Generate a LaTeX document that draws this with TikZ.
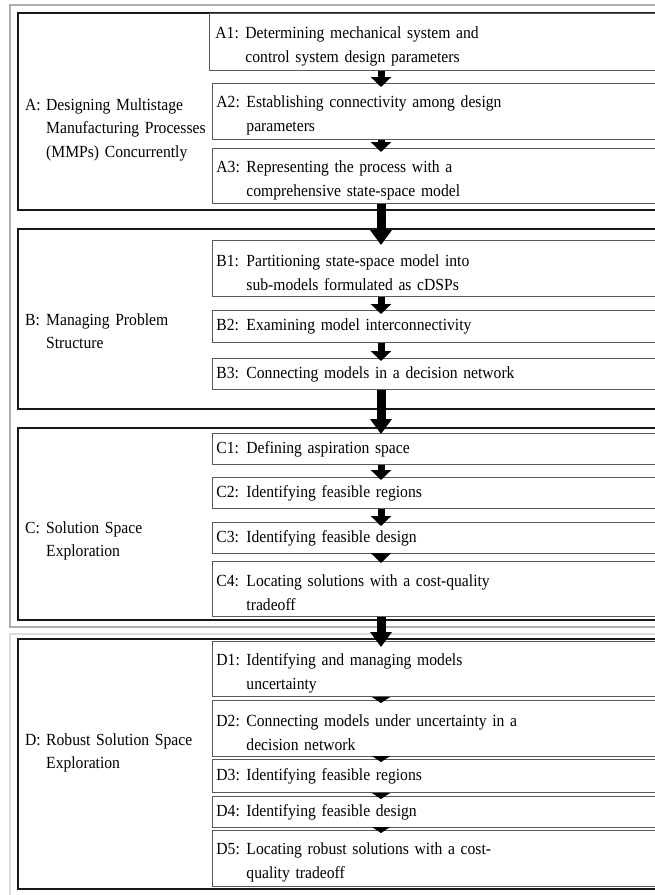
\documentclass[tikz,border=0pt]{standalone}
\usepackage{fontspec}
\setmainfont[FakeStretch=0.92]{Liberation Serif}
\usetikzlibrary{arrows.meta,calc}
\newcommand\slab[1]{\makebox[30pt][l]{#1}}
\newcommand\scont{\hspace*{30pt}}
\newcommand\plab[1]{\makebox[21pt][l]{#1}}
\newcommand\pcont{\hspace*{21pt}}
\newcommand\tstrut{\rule{0pt}{20pt}}
\begin{document}
\begin{tikzpicture}[x=1pt,y=-1pt,
  stepbox/.style={draw=black!65, line width=0.9pt, fill=white, anchor=north west,
    text width=452pt, inner xsep=4pt, inner ysep=0pt, align=left,
    font=\fontsize{17}{24}\selectfont, minimum height=#1},
  phase/.style={draw=black!90, line width=2.4pt, anchor=north west, minimum width=680pt, minimum height=#1, inner sep=0pt},
  phaselab/.style={anchor=base west, text width=190pt, inner sep=0pt, align=left,
    font=\fontsize{17}{23.5}\selectfont},
  frameA/.style={draw=black!32, line width=1.8pt},
  frameB/.style={draw=black!14, line width=1.8pt},
  arrS/.style={draw=black, line width=7pt, -{Triangle[width=20pt,length=10pt]}},
  arrB/.style={draw=black, line width=9pt, -{Triangle[width=21pt,length=15pt]}},
  arrD/.style={draw=black, line width=6pt, -{Triangle[width=18pt,length=6pt]}}
]
\useasboundingbox (0,0) rectangle (655,895);
\clip (0,0) rectangle (655,895);
\fill[white] (0,0) rectangle (655,895);

% grey frames
\draw[frameA] (10,5) rectangle (680,627);
\draw[frameB] (680,634) -- (10,634) -- (10,900);

% phase boxes
\node[phase=197pt] (A) at (17,12) {};
\node[phase=180pt] (B) at (17,228) {};
\node[phase=192pt] (C) at (17,427) {};
\node[phase=250pt] (D) at (17,638) {};

% phase labels
\node[phaselab] (Al) at (25,110) {\plab{A:}Designing Multistage\\\pcont Manufacturing Processes\\\pcont (MMPs) Concurrently};
\node[phaselab] (Bl) at (25,325) {\plab{B:}Managing Problem\\\pcont Structure};
\node[phaselab] (Cl) at (25,533) {\plab{C:}Solution Space\\\pcont Exploration};
\node[phaselab] (Dl) at (25,745) {\plab{D:}Robust Solution Space\\\pcont Exploration};

% steps
\node[stepbox=57pt, inner xsep=6pt] (A1) at (209,13) {\tstrut\slab{A1:}Determining mechanical system and\\\scont control system design parameters};
\node[stepbox=56pt] (A2) at (212,83) {\tstrut\slab{A2:}Establishing connectivity among design\\\scont parameters};
\node[stepbox=55pt] (A3) at (212,148) {\tstrut\slab{A3:}Representing the process with a\\\scont comprehensive state-space model};

\node[stepbox=56pt] (B1) at (212,240) {\tstrut\slab{B1:}Partitioning state-space model into\\\scont sub-models formulated as cDSPs};
\node[stepbox=32pt] (B2) at (212,310) {\slab{B2:}Examining model interconnectivity};
\node[stepbox=31pt] (B3) at (212,358) {\slab{B3:}Connecting models in a decision network};

\node[stepbox=31pt] (C1) at (212,433) {\slab{C1:}Defining aspiration space};
\node[stepbox=31pt] (C2) at (212,477) {\slab{C2:}Identifying feasible regions};
\node[stepbox=31pt] (C3) at (212,522) {\slab{C3:}Identifying feasible design};
\node[stepbox=55pt] (C4) at (212,561) {\tstrut\slab{C4:}Locating solutions with a cost-quality\\\scont tradeoff};

\node[stepbox=55pt] (D1) at (212,641) {\tstrut\slab{D1:}Identifying and managing models\\\scont uncertainty};
\node[stepbox=56pt] (D2) at (212,700) {\tstrut\slab{D2:}Connecting models under uncertainty in a\\\scont decision network};
\node[stepbox=33pt] (D3) at (212,759) {\slab{D3:}Identifying feasible regions};
\node[stepbox=31pt] (D4) at (212,796) {\slab{D4:}Identifying feasible design};
\node[stepbox=56pt] (D5) at (212,830) {\tstrut\slab{D5:}Locating robust solutions with a cost-\\\scont quality tradeoff};

% arrows
\coordinate (ax) at (381,0);
\draw[arrS] (A1.south west -| ax) -- ($(A2.north west -| ax)+(0,4)$);
\draw[arrS] (A2.south west -| ax) -- ($(A3.north west -| ax)+(0,4)$);
\draw[arrB] (A3.south west -| ax) -- ($(B1.north west -| ax)+(0,5)$);
\draw[arrS] (B1.south west -| ax) -- ($(B2.north west -| ax)+(0,4)$);
\draw[arrS] (B2.south west -| ax) -- ($(B3.north west -| ax)+(0,3)$);
\draw[arrB] (B3.south west -| ax) -- ($(C1.north west -| ax)+(0,1)$);
\draw[arrS] (C1.south west -| ax) -- ($(C2.north west -| ax)+(0,3)$);
\draw[arrS] (C2.south west -| ax) -- ($(C3.north west -| ax)+(0,4)$);
\draw[arrS] (C3.south west -| ax) -- ($(C4.north west -| ax)+(0,2)$);
\draw[arrB] (C4.south west -| ax) -- ($(D1.north west -| ax)+(0,6)$);
\draw[arrD] (D1.south west -| ax) -- ($(D2.north west -| ax)+(0,3)$);
\draw[arrD] (D2.south west -| ax) -- ($(D3.north west -| ax)+(0,3)$);
\draw[arrD] (D3.south west -| ax) -- ($(D4.north west -| ax)+(0,3)$);
\draw[arrD] (D4.south west -| ax) -- ($(D5.north west -| ax)+(0,3)$);
\end{tikzpicture}
\end{document}
